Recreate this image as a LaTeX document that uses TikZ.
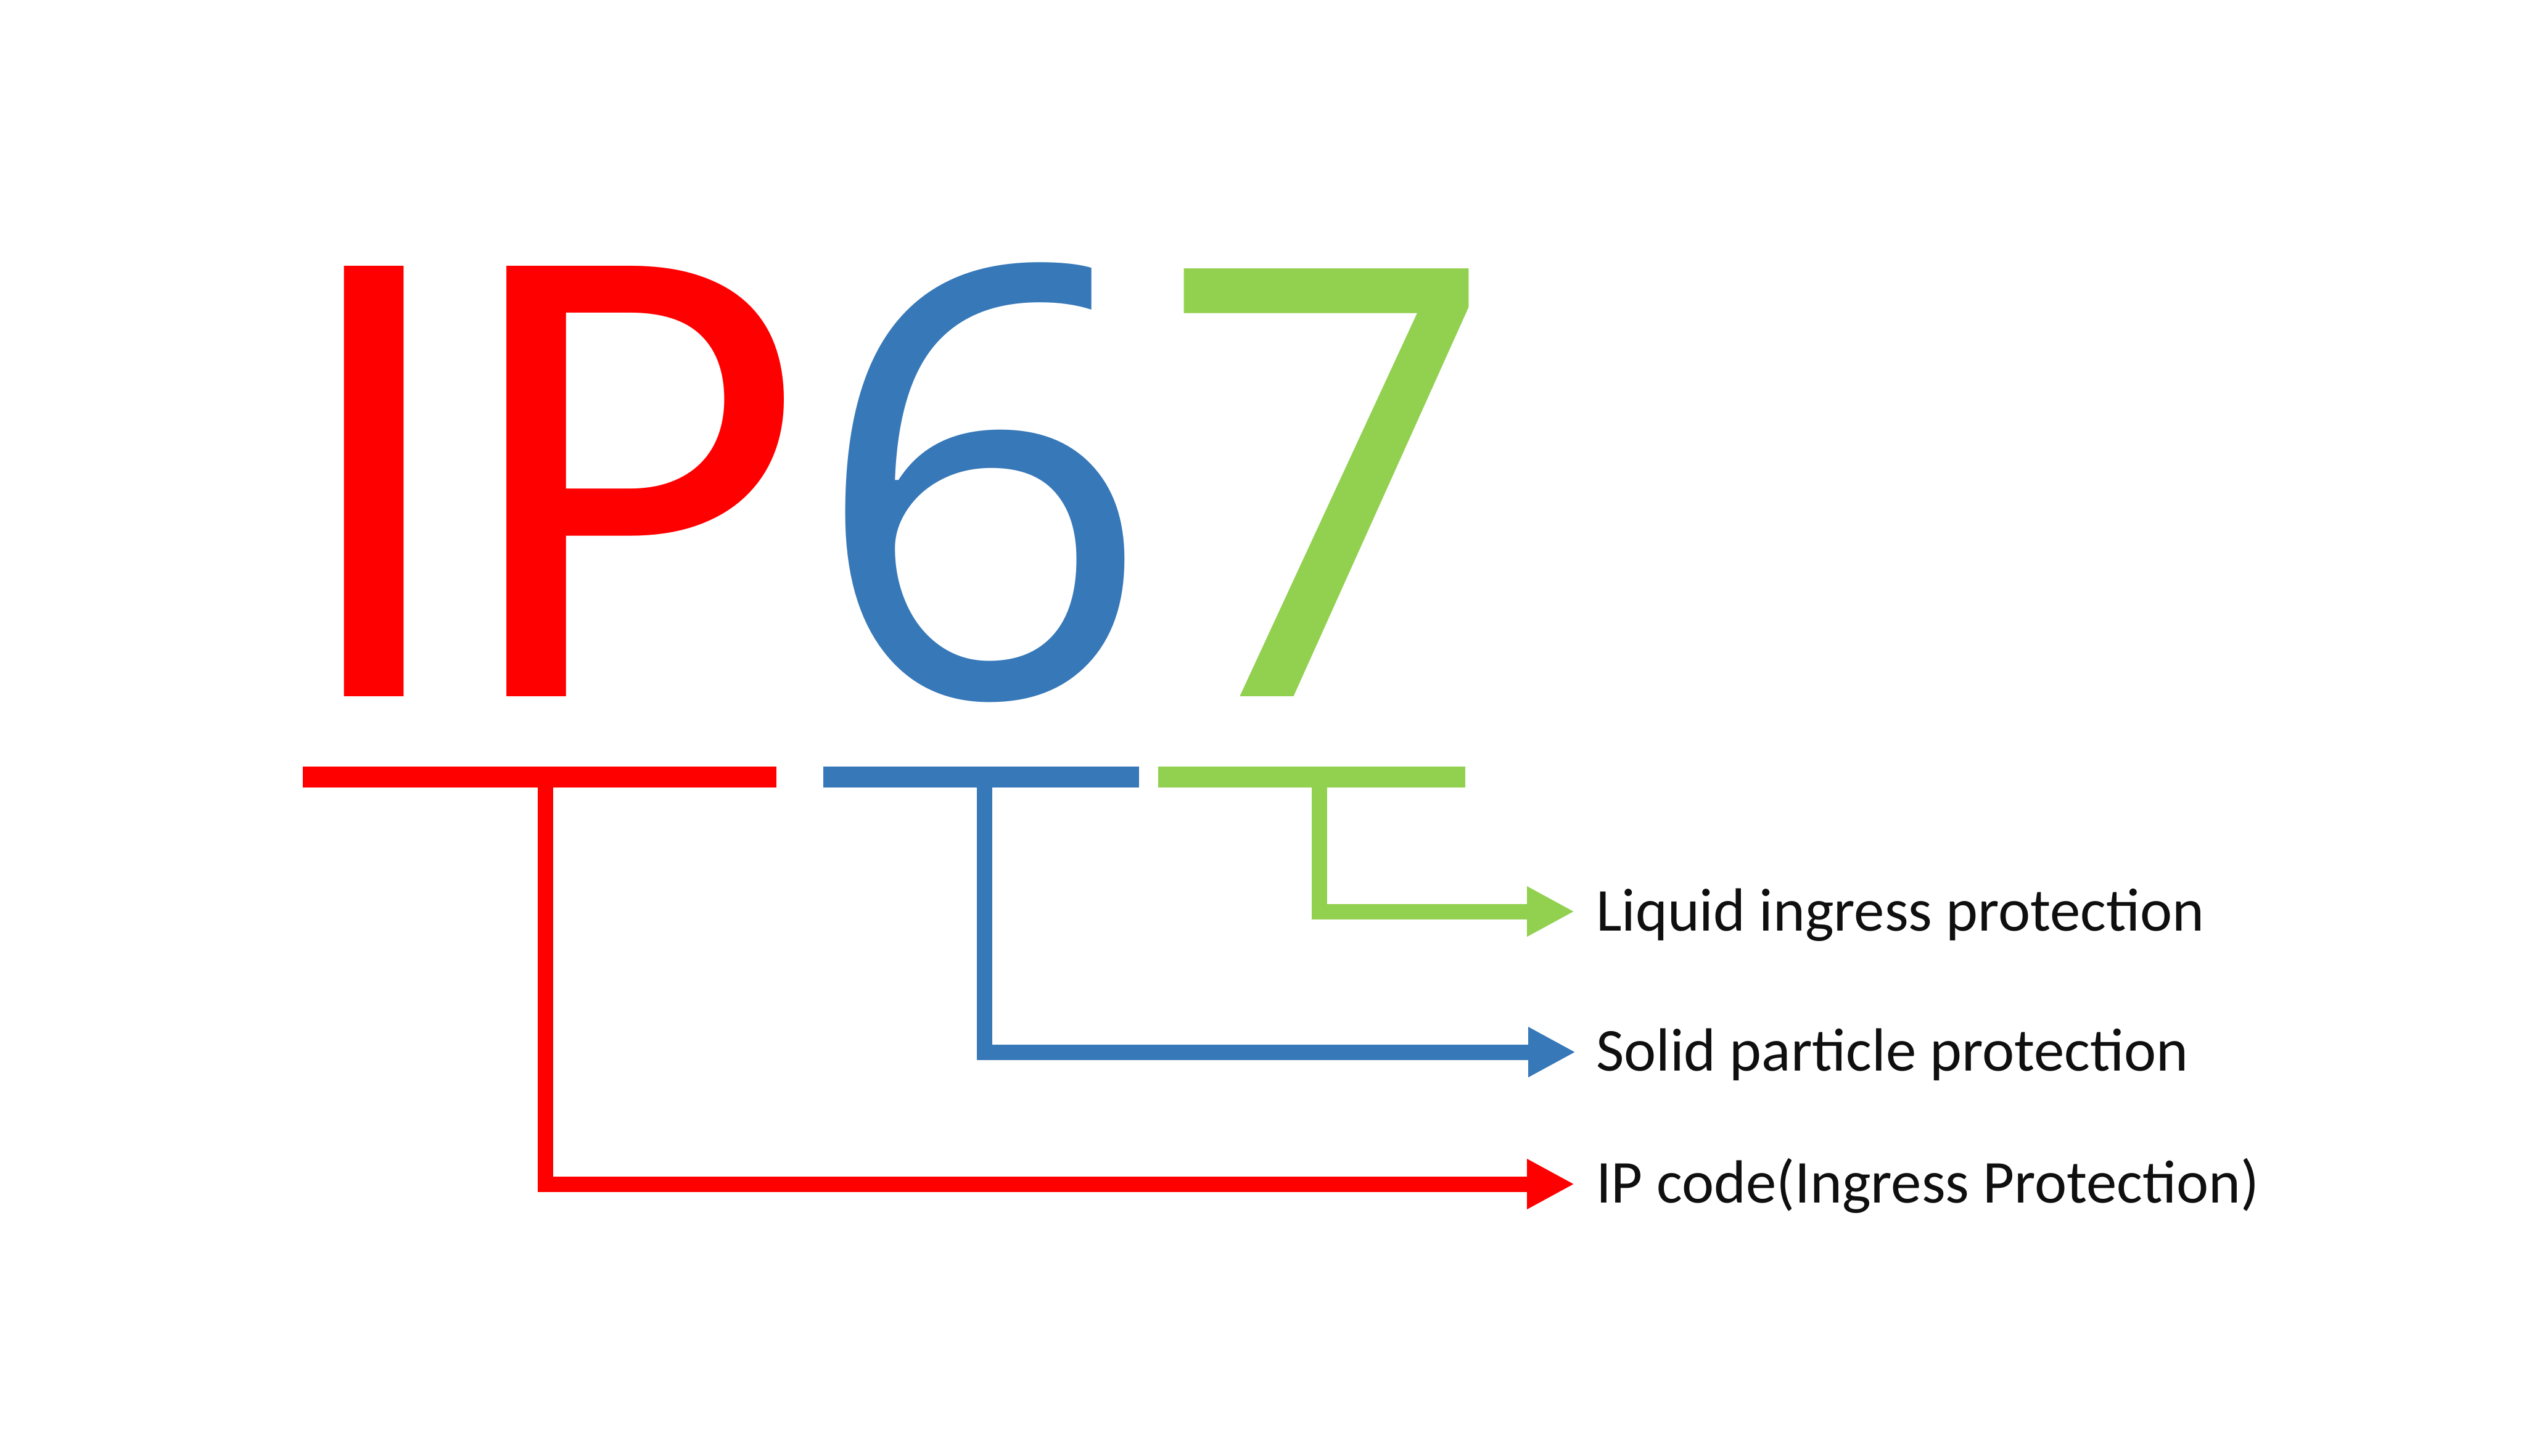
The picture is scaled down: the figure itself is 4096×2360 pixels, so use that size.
\documentclass[tikz,border=0pt]{standalone}
\usepackage{fontspec}
\setmainfont{Carlito}
\newfontfamily\digitfont{Open Sans}
\usetikzlibrary{arrows.meta}
\definecolor{ipred}{RGB}{255,0,0}
\definecolor{ipblue}{RGB}{55,120,184}
\definecolor{ipgreen}{RGB}{146,208,80}
\definecolor{labelink}{RGB}{15,15,15}
\tikzset{
  bigchar/.style={anchor=base west, inner sep=0pt, outer sep=0pt, font=\fontsize{272pt}{300pt}\selectfont},
  bigdigit/.style={anchor=base west, inner sep=0pt, outer sep=0pt, font=\digitfont\fontsize{243pt}{260pt}\selectfont},
  bar/.style={rectangle, inner sep=0pt, outer sep=0pt, draw=none, minimum height=8.5pt},
  conn/.style={line width=6.25pt, line cap=butt, line join=miter, -{Triangle[length=19.25pt,width=19pt]}},
  lab/.style={anchor=base west, inner sep=0pt, outer sep=0pt, text=labelink, font=\fontsize{24.7pt}{28pt}\selectfont}
}
\begin{document}
\begin{tikzpicture}[x=0.25pt, y=-0.25pt]
\useasboundingbox (0,0) rectangle (4096,2360);
% big code
\node[bigchar, text=ipred] (ip) at (469,1129) {IP};
\node[bigdigit, text=ipblue] (six) at (1315,1129) {6};
\node[bigdigit, text=ipgreen] (seven) at (1875,1129) {7};
% bars
\node[bar, fill=ipred, minimum width=192pt] (redbar) at (875,1260) {};
\node[bar, fill=ipblue, minimum width=128pt] (bluebar) at (1591,1260) {};
\node[bar, fill=ipgreen, minimum width=124.5pt] (greenbar) at (2127,1260) {};
% labels
\node[lab] (liq) at (2588,1509) {Liquid ingress protection};
\node[lab] (sol) at (2588,1736) {Solid particle protection};
\node[lab] (code) at (2588,1950) {IP code(Ingress Protection)};
% arrow tips
\coordinate (gtip) at (2553,1478);
\coordinate (btip) at (2555,1706);
\coordinate (rtip) at (2553,1920);
% connectors
\draw[conn, ipgreen] ([xshift=3pt]greenbar.center) |- (gtip);
\draw[conn, ipblue] ([xshift=1.25pt]bluebar.center) |- (btip);
\draw[conn, ipred] ([xshift=2.25pt]redbar.center) |- (rtip);
\end{tikzpicture}
\end{document}
